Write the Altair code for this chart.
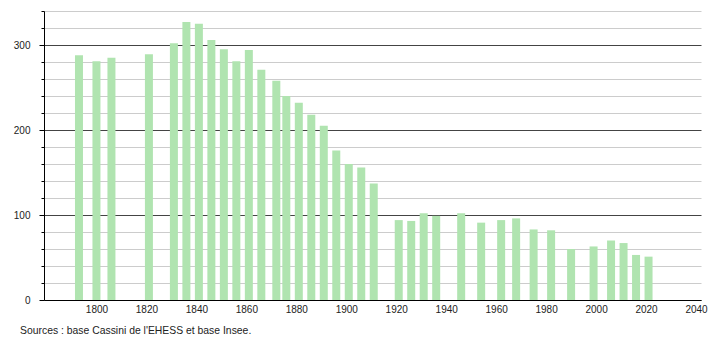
import altair as alt
import pandas as pd

years = [1793, 1800, 1806, 1821, 1831, 1836, 1841, 1846, 1851, 1856, 1861, 1866,
         1872, 1876, 1881, 1886, 1891, 1896, 1901, 1906, 1911, 1921, 1926, 1931,
         1936, 1946, 1954, 1962, 1968, 1975, 1982, 1990, 1999, 2006, 2011, 2016, 2021]
population = [288, 281, 285, 289, 302, 327, 325, 306, 295, 281, 294, 271,
              258, 240, 232, 218, 205, 176, 160, 156, 137, 94, 93, 102,
              99, 102, 91, 94, 96, 83, 82, 60, 63, 70, 67, 53, 51]
x_ticks = [1800, 1820, 1840, 1860, 1880, 1900, 1920, 1940, 1960, 1980, 2000, 2020, 2040]
y_ticks = list(range(0, 341, 20))
source = "Sources : base Cassini de l'EHESS et base Insee."

df = pd.DataFrame({"year": years, "pop": population})

font = "Liberation Sans"

chart = alt.Chart(df).mark_bar(size=8, color="#b0e4b0").encode(
    x=alt.X("year:Q",
            scale=alt.Scale(domain=[1779, 2042], nice=False, zero=False, padding=0),
            axis=alt.Axis(values=x_ticks, title=None, grid=False, ticks=False,
                          format="d", labelFontSize=10, labelFont=font,
                          labelColor="#222", labelPadding=4,
                          domainColor="#000", domainWidth=1)),
    y=alt.Y("pop:Q",
            scale=alt.Scale(domain=[0, 340], nice=False),
            axis=alt.Axis(values=y_ticks, title=None, grid=True,
                          gridColor=alt.condition("datum.value % 100 === 0",
                                                  alt.value("#444444"),
                                                  alt.value("#cccccc")),
                          gridWidth=1,
                          tickSize=alt.condition("datum.value % 100 === 0",
                                                 alt.value(5), alt.value(3)),
                          tickColor="#000",
                          labelExpr="datum.value % 100 === 0 ? datum.label : ''",
                          labelFontSize=10, labelFont=font, labelColor="#222",
                          labelPadding=9,
                          domainColor="#000", domainWidth=1)),
).properties(
    width=657,
    height=289,
    autosize=alt.AutoSizeParams(type="none"),
    padding={"left": 44, "top": 11, "right": 9, "bottom": 40},
    title=alt.TitleParams(source, orient="bottom", anchor="start", fontSize=10.4,
                          font=font, fontWeight="normal", color="#222",
                          frame="group", dx=-24, offset=12),
).configure_view(stroke=None)

chart.save("out.html", embed_options={"renderer": "svg", "actions": False})
